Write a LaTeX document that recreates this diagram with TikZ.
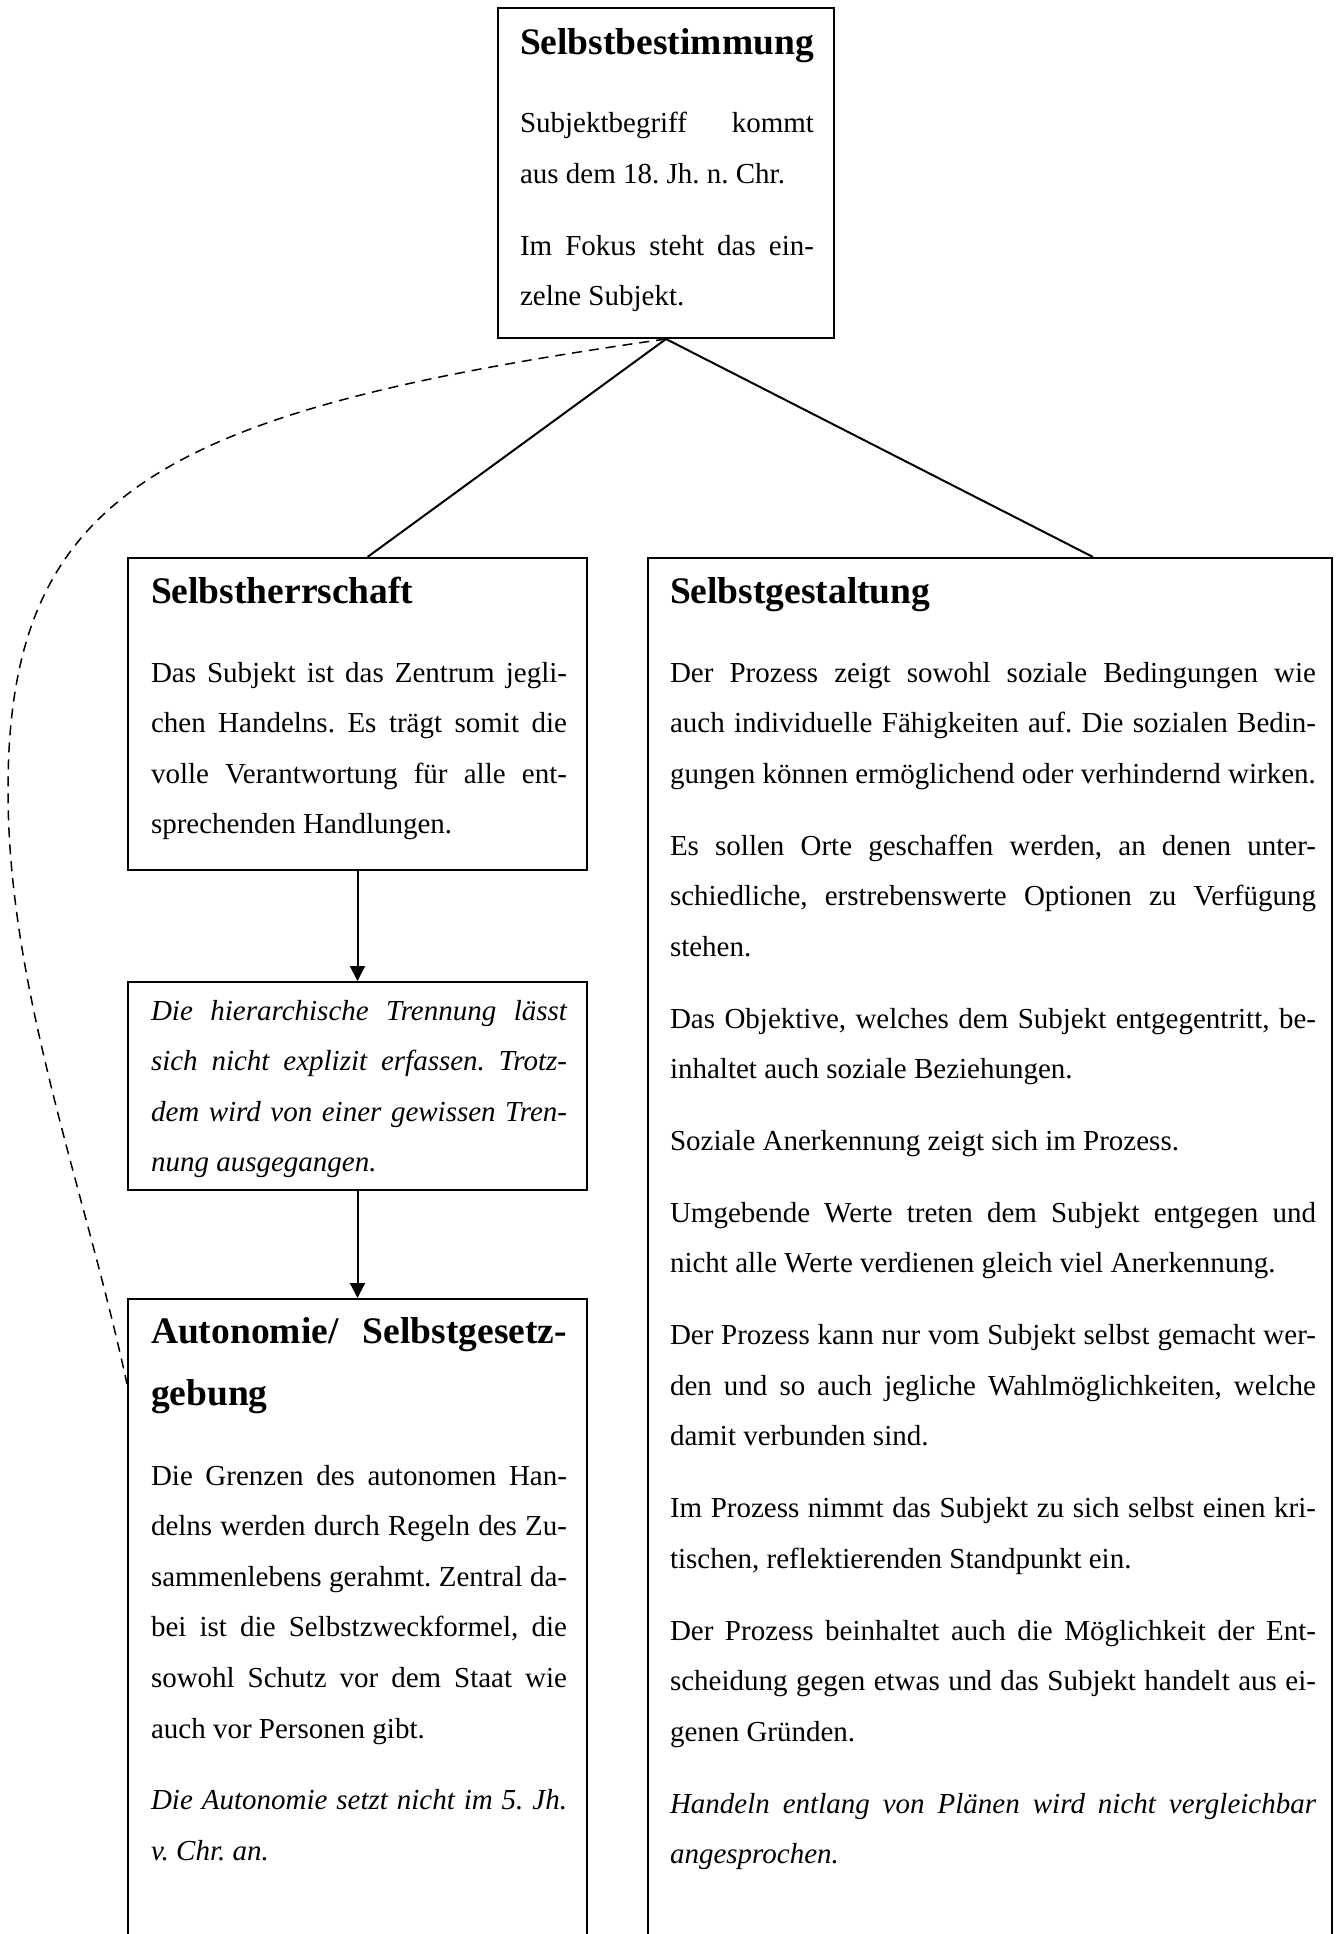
\documentclass[tikz,border=0pt]{standalone}
\usepackage{fontspec}
\setmainfont{Liberation Serif}
\usepackage{tikz}
\usetikzlibrary{arrows.meta}

\newcommand{\grundschrift}{\fontsize{29pt}{50.6pt}\selectfont}
\newcommand{\titelschrift}{\fontsize{37.5pt}{62pt}\selectfont\bfseries}
\frenchspacing

\begin{document}
\begin{tikzpicture}[x=1pt,y=-1pt,>={Triangle[width=15pt,length=15pt]},
                    line width=2pt]
  \tikzstyle{box}=[draw,rectangle,line width=2pt,inner sep=0pt]
  \tikzstyle{titel}=[anchor=base west,inner sep=0pt,font=\titelschrift,align=justify,
                     execute at begin node={\frenchspacing\hyphenpenalty=10000\tolerance=10000}]
  \tikzstyle{absatz}=[anchor=base west,inner sep=0pt,font=\grundschrift,align=justify,
                      execute at begin node={\frenchspacing\setlength{\parskip}{21.2pt}\hyphenpenalty=10000\tolerance=10000}]

  \useasboundingbox (0,0) rectangle (1340,1934);
  \clip (0,0) rectangle (1340,1934);

  \node[box,minimum width=336pt,minimum height=330pt]  (bestimmung) at (666,173)    {};
  \node[box,minimum width=459pt,minimum height=312pt]  (herrschaft) at (357.5,714)  {};
  \node[box,minimum width=459pt,minimum height=208pt]  (trennung)   at (357.5,1086) {};
  \node[box,minimum width=459pt,minimum height=701pt]  (autonomie)  at (357.5,1649.5) {};
  \node[box,minimum width=684pt,minimum height=1442pt] (gestaltung) at (990,1279)   {};

  \node[titel] (bestimmungtitel) at (519,55) {Selbstbestimmung};
  \node[absatz,text width=294pt] (bestimmungtext) at (519,133)
    {Subjektbegriff kommt\linebreak aus dem 18. Jh. n. Chr.\par
     Im Fokus steht das ein-\linebreak zelne Subjekt.};

  \node[titel] (herrschafttitel) at (150,603) {Selbstherrschaft};
  \node[absatz,text width=416pt] (herrschafttext) at (150,682)
    {Das Subjekt ist das Zentrum jegli-\linebreak chen Handelns. Es trägt somit die\linebreak
     volle Verantwortung für alle ent-\linebreak sprechenden Handlungen.};

  \node[absatz,text width=416pt,font=\grundschrift\itshape] (trennungtext) at (150,1020)
    {Die hierarchische Trennung lässt\linebreak sich nicht explizit erfassen. Trotz-\linebreak
     dem wird von einer gewissen Tren-\linebreak nung ausgegangen.};

  \node[titel,text width=416pt] (autonomietitel) at (150,1343)
    {Autonomie/ Selbstgesetz-\linebreak gebung};
  \node[absatz,text width=416pt] (autonomietext) at (150,1485)
    {Die Grenzen des autonomen Han-\linebreak delns werden durch Regeln des Zu-\linebreak
     sammenlebens gerahmt. Zentral da-\linebreak bei ist die Selbstzweckformel, die\linebreak
     sowohl Schutz vor dem Staat wie\linebreak auch vor Personen gibt.\par
     \textit{Die Autonomie setzt nicht im 5. Jh.\linebreak v. Chr. an.}};

  \node[titel] (gestaltungtitel) at (669,603) {Selbstgestaltung};
  \node[absatz,text width=646pt] (gestaltungtext) at (669,682)
    {Der Prozess zeigt sowohl soziale Bedingungen wie\linebreak auch individuelle Fähigkeiten auf. Die sozialen Bedin-\linebreak
     gungen können ermöglichend oder verhindernd wirken.\par
     Es sollen Orte geschaffen werden, an denen unter-\linebreak schiedliche, erstrebenswerte Optionen zu Verfügung\linebreak
     stehen.\par
     Das Objektive, welches dem Subjekt entgegentritt, be-\linebreak inhaltet auch soziale Beziehungen.\par
     Soziale Anerkennung zeigt sich im Prozess.\par
     Umgebende Werte treten dem Subjekt entgegen und\linebreak nicht alle Werte verdienen gleich viel Anerkennung.\par
     Der Prozess kann nur vom Subjekt selbst gemacht wer-\linebreak den und so auch jegliche Wahlmöglichkeiten, welche\linebreak
     damit verbunden sind.\par
     Im Prozess nimmt das Subjekt zu sich selbst einen kri-\linebreak tischen, reflektierenden Standpunkt ein.\par
     Der Prozess beinhaltet auch die Möglichkeit der Ent-\linebreak scheidung gegen etwas und das Subjekt handelt aus ei-\linebreak
     genen Gründen.\par
     \textit{Handeln entlang von Plänen wird nicht vergleichbar\linebreak angesprochen.}};

  \coordinate (kurvenende) at ([yshift=-86pt]autonomie.north west);

  \path (bestimmung.south) edge ([xshift=10pt]herrschaft.north)
                           edge ([xshift=103pt]gestaltung.north);
  \path[->] (herrschaft) edge (trennung)
            (trennung)   edge (autonomie);
  \draw[line width=1.5pt,dash pattern=on 10pt off 7pt] (bestimmung.south)
        .. controls (166,410) and (8,490) .. (8,790)
        .. controls (8,990) and (84,1185) .. (kurvenende);
\end{tikzpicture}
\end{document}
